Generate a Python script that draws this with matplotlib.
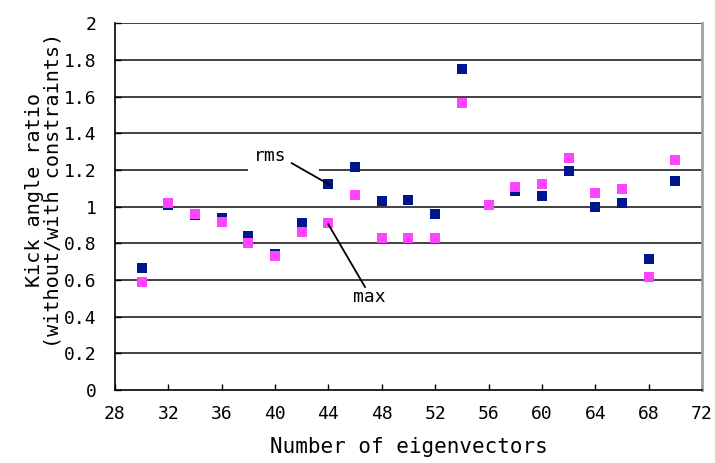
import matplotlib
matplotlib.use("Agg")
import matplotlib.pyplot as plt
from matplotlib.patches import Rectangle

# Number of eigenvectors used in the correction
eigenvectors = [30, 32, 34, 36, 38, 40, 42, 44, 46, 48, 50, 52, 54, 56, 58, 60, 62, 64, 66, 68, 70]
# Kick angle ratio (without/with constraints)
rms_ratio = [0.665, 1.01, 0.955, 0.94, 0.838, 0.74, 0.913, 1.125, 1.217, 1.033, 1.038,
             0.962, 1.751, 1.01, 1.087, 1.06, 1.197, 1.0, 1.022, 0.715, 1.142]
max_ratio = [0.591, 1.018, 0.96, 0.918, 0.804, 0.733, 0.864, 0.913, 1.062, 0.829, 0.829,
             0.829, 1.567, 1.011, 1.109, 1.125, 1.267, 1.076, 1.098, 0.618, 1.257]

x_ticks = list(range(28, 73, 4))
y_ticks = [0, 0.2, 0.4, 0.6, 0.8, 1, 1.2, 1.4, 1.6, 1.8, 2]
y_tick_labels = ["0", "0.2", "0.4", "0.6", "0.8", "1", "1.2", "1.4", "1.6", "1.8", "2"]

plt.rcParams["font.family"] = ["DejaVu Sans Mono"]

fig = plt.figure(figsize=(7.15, 4.63), dpi=100)
ax = fig.add_axes([0.1608, 0.1577, 0.8210, 0.7920])

ax.set_xlim(28, 72)
ax.set_ylim(0, 2)
ax.set_xticks(x_ticks)
ax.set_xticklabels([str(t) for t in x_ticks], fontsize=13)
ax.set_yticks(y_ticks)
ax.set_yticklabels(y_tick_labels, fontsize=13)
ax.tick_params(axis="both", direction="in", length=4, width=1, colors="black")
ax.tick_params(axis="x", pad=11)
ax.tick_params(axis="y", pad=13)

for v in y_ticks[1:]:
    ax.axhline(v, color="#333333", lw=1.3, zorder=1)

ax.spines["left"].set_color("black")
ax.spines["bottom"].set_color("black")
ax.spines["left"].set_linewidth(1.2)
ax.spines["bottom"].set_linewidth(1.2)
ax.spines["top"].set_visible(False)
ax.spines["right"].set_color("#a0a0a0")
ax.spines["right"].set_linewidth(2)

ax.plot(eigenvectors, rms_ratio, linestyle="none", marker="s", markersize=7.3,
        color="#00168c", markeredgewidth=0, zorder=3)
ax.plot(eigenvectors, max_ratio, linestyle="none", marker="s", markersize=7.3,
        color="#ff44ff", markeredgewidth=0, zorder=4)

# white label box interrupting the 1.2 gridline
ax.add_patch(Rectangle((37.97, 1.16), 5.3, 0.17, facecolor="white",
                       edgecolor="none", zorder=2))

ax.text(39.6, 1.277, "rms", fontsize=13, ha="center", va="center", zorder=5)
ax.plot([41.25, 44.12], [1.237, 1.118], color="black", lw=1.3, zorder=5)

ax.text(47.1, 0.505, "max", fontsize=13, ha="center", va="center", zorder=5)
ax.plot([46.74, 43.99], [0.562, 0.904], color="black", lw=1.3, zorder=5)

ax.set_xlabel("Number of eigenvectors", fontsize=15, labelpad=10)
ax.set_ylabel("Kick angle ratio\n(without/with constraints)", fontsize=14.5,
              linespacing=0.95)
ax.yaxis.set_label_coords(-0.09, 0.545)

fig.savefig("out.png", dpi=100)
